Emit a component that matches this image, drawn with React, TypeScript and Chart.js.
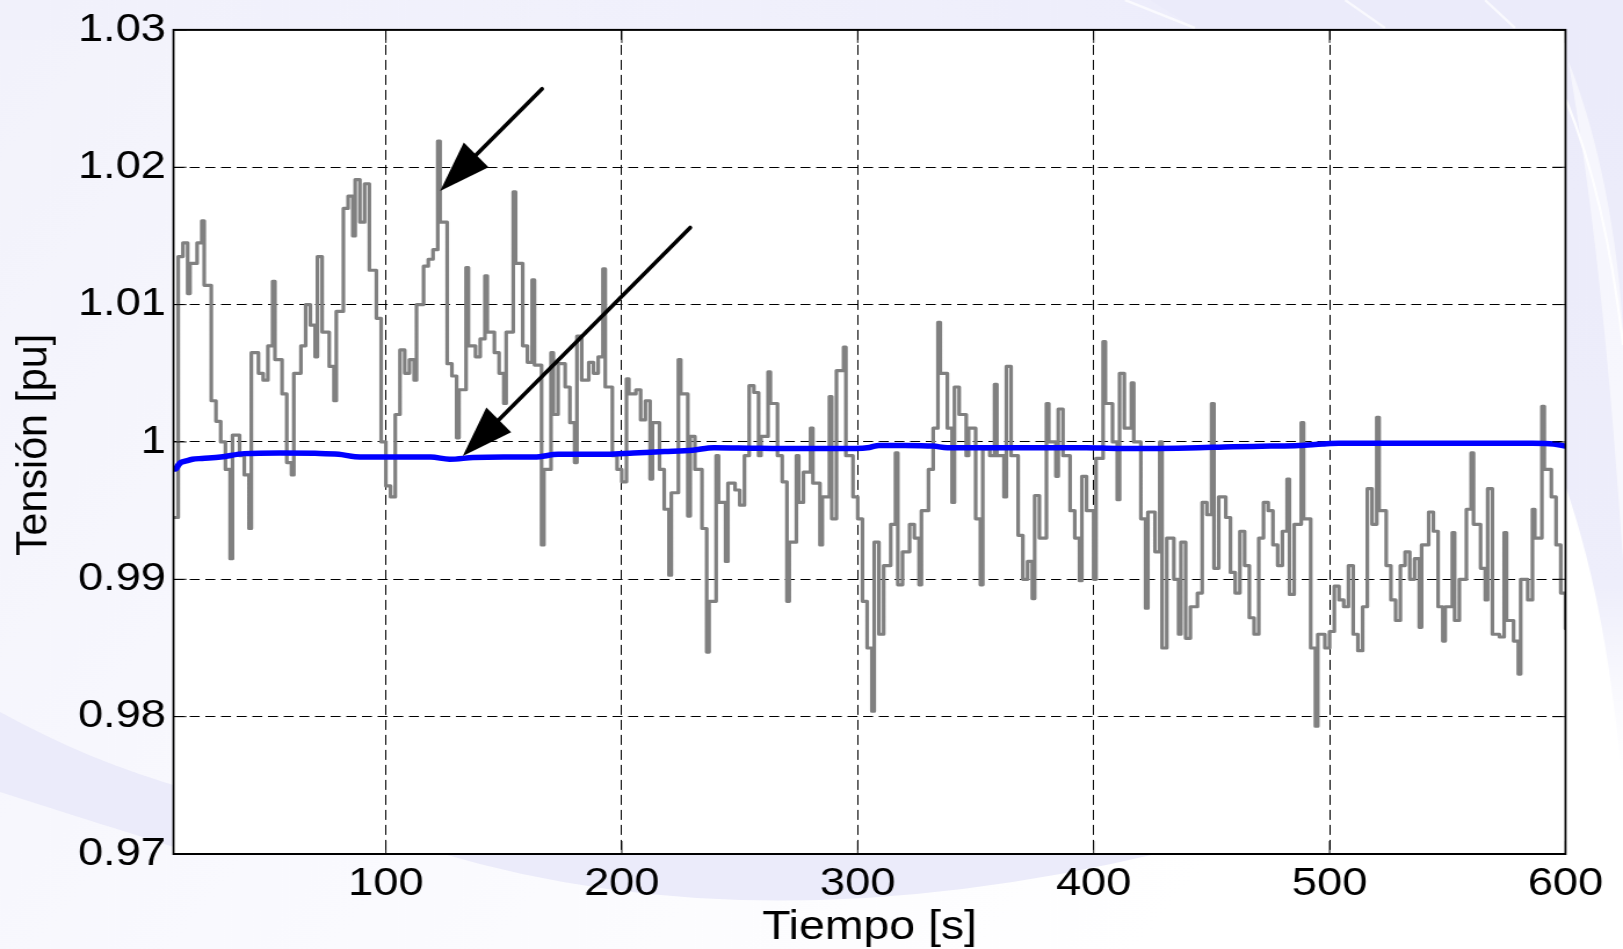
import React, { useEffect, useRef } from "react";
import { Chart, registerables } from "chart.js";

Chart.register(...registerables);

// The figure's lettering is wide, so the chart is drawn on a narrower canvas
// and widened by CSS to the final view size.
const VIEW_W = 1623;
const VIEW_H = 949;
const STRETCH = 1.16;
const CANVAS_W = Math.round(VIEW_W / STRETCH);
const SX = VIEW_W / CANVAS_W;

const FONT = "'Liberation Sans', Arial, Helvetica, sans-serif";

// Plot frame in view pixels
const PLOT_LEFT = 173.5;
const PLOT_RIGHT = 1565.5;
const PLOT_TOP = 24.5;
const PLOT_BOTTOM = 854;

const xTickValues = [100, 200, 300, 400, 500, 600];
const xTickLabels = ["100", "200", "300", "400", "500", "600"];
const yTickValues = [0.97, 0.98, 0.99, 1, 1.01, 1.02, 1.03];
const yTickLabels = ["0.97", "0.98", "0.99", "1", "1.01", "1.02", "1.03"];

// Measured voltage (sample-and-hold): start time of each level [s]
const measuredTime = [
  10, 12, 14, 16, 17, 20, 22, 23, 26, 28,
  30, 32, 34, 35, 38, 40, 42, 43, 46, 48,
  50, 52, 53, 56, 58, 60, 61, 64, 66, 68,
  70, 71, 73, 76, 78, 79, 82, 84, 86, 87,
  89, 91, 93, 96, 98, 100, 102, 104, 106, 108,
  110, 112, 113, 116, 118, 120, 122, 123, 126, 128,
  130, 131, 134, 135, 138, 140, 142, 143, 146, 148,
  150, 151, 154, 155, 158, 160, 162, 163, 166, 167,
  170, 171, 173, 176, 178, 180, 181, 183, 186, 188,
  190, 192, 193, 196, 198, 200, 202, 203, 206, 208,
  210, 212, 213, 216, 218, 220, 221, 224, 225, 228,
  229, 231, 234, 236, 237, 240, 241, 244, 245, 248,
  250, 252, 254, 256, 258, 259, 262, 263, 266, 268,
  270, 271, 274, 275, 277, 280, 281, 284, 285, 288,
  289, 291, 294, 295, 298, 300, 302, 304, 306, 307,
  309, 311, 314, 316, 317, 319, 322, 324, 326, 327,
  330, 332, 334, 335, 338, 340, 341, 343, 346, 347,
  350, 352, 353, 356, 358, 359, 362, 363, 365, 368,
  370, 372, 374, 375, 377, 380, 381, 384, 385, 387,
  390, 392, 394, 395, 397, 400, 401, 404, 405, 408,
  410, 411, 413, 416, 417, 420, 422, 423, 426, 428,
  429, 431, 434, 436, 437, 439, 441, 444, 446, 448,
  450, 451, 453, 456, 458, 460, 462, 464, 466, 468,
  470, 472, 474, 476, 478, 480, 482, 483, 485, 488,
  489, 492, 494, 495, 498, 500, 502, 504, 506, 508,
  510, 512, 514, 516, 518, 520, 521, 524, 526, 528,
  530, 532, 534, 536, 538, 539, 542, 544, 546, 548,
  549, 552, 553, 555, 558, 560, 561, 564, 566, 567,
  569, 572, 574, 575, 578, 580, 581, 584, 586, 587,
  590, 591, 594, 596, 598, 600,
];
// Measured voltage level [pu]
const measuredVoltage = [
  0.9945, 1.0135, 1.0145, 1.0108, 1.013, 1.0145, 1.0161, 1.0114, 1.003, 1.0015,
  1.0, 0.998, 0.9915, 1.0005, 0.999, 0.9976, 0.9937, 1.0065, 1.005, 1.0045,
  1.007, 1.0117, 1.006, 1.0035, 0.9985, 0.9976, 1.005, 1.007, 1.01, 1.0085,
  1.0062, 1.0135, 1.008, 1.0055, 1.003, 1.0095, 1.017, 1.0179, 1.015, 1.0191,
  1.016, 1.0188, 1.0125, 1.009, 1.0, 0.9968, 0.996, 1.002, 1.0067, 1.005,
  1.006, 1.0045, 1.01, 1.0128, 1.0133, 1.014, 1.0219, 1.016, 1.0057, 1.0048,
  1.0003, 1.0038, 1.0127, 1.007, 1.0062, 1.0075, 1.0121, 1.008, 1.0065, 1.005,
  1.0028, 1.008, 1.0182, 1.013, 1.007, 1.0058, 1.0118, 1.0056, 0.9925, 0.998,
  1.0065, 1.002, 1.0057, 1.004, 1.0014, 0.9985, 1.0077, 1.0045, 1.0058, 1.005,
  1.0062, 1.0126, 1.004, 0.999, 0.998, 0.9971, 1.0046, 1.0035, 1.0038, 1.0016,
  1.003, 0.9973, 1.0014, 0.998, 0.9951, 0.9903, 0.9963, 1.006, 1.0035, 0.9946,
  1.0004, 0.998, 0.9937, 0.9847, 0.9884, 0.999, 0.9956, 0.9913, 0.997, 0.9965,
  0.9954, 0.999, 1.0041, 1.0036, 0.999, 1.0004, 1.0051, 1.0028, 0.999, 0.9971,
  0.9884, 0.9927, 0.999, 0.9956, 0.9978, 1.001, 0.997, 0.9925, 0.996, 1.0033,
  0.9944, 1.0052, 1.0069, 0.999, 0.996, 0.9944, 0.9884, 0.985, 0.9804, 0.9927,
  0.986, 0.991, 0.994, 0.9992, 0.9896, 0.992, 0.994, 0.993, 0.9896, 0.995,
  0.998, 1.001, 1.0087, 1.005, 1.001, 0.9956, 1.004, 1.002, 0.999, 1.001,
  0.9944, 0.9896, 0.9995, 0.999, 1.0042, 0.999, 0.996, 1.0055, 0.999, 0.9932,
  0.99, 0.9913, 0.9886, 0.9961, 0.993, 1.0028, 1.0, 0.9975, 1.0024, 0.999,
  0.995, 0.993, 0.9899, 0.9975, 0.995, 0.99, 0.9988, 1.0073, 1.0028, 1.0,
  0.9958, 1.005, 1.001, 1.0043, 1.0, 0.9944, 0.9879, 0.9949, 0.992, 1.0,
  0.985, 0.993, 0.99, 0.986, 0.9927, 0.9857, 0.988, 0.989, 0.9956, 0.9947,
  1.0028, 0.9908, 0.996, 0.9945, 0.9905, 0.989, 0.9935, 0.991, 0.9872, 0.986,
  0.993, 0.9956, 0.995, 0.9925, 0.991, 0.9935, 0.9973, 0.9889, 0.994, 1.0014,
  0.9944, 0.985, 0.9793, 0.986, 0.985, 0.9862, 0.9895, 0.9885, 0.988, 0.991,
  0.986, 0.9848, 0.988, 0.9966, 0.994, 1.0018, 0.995, 0.991, 0.9885, 0.987,
  0.991, 0.992, 0.99, 0.9915, 0.9865, 0.9925, 0.9949, 0.9935, 0.988, 0.9855,
  0.988, 0.9934, 0.987, 0.99, 0.9951, 0.9992, 0.994, 0.9908, 0.9885, 0.9966,
  0.986, 0.9858, 0.9934, 0.987, 0.9855, 0.9831, 0.99, 0.9885, 0.9951, 0.993,
  1.0026, 0.998, 0.996, 0.9925, 0.989, 0.9864,
];

// Filtered voltage
const filteredTime = [
  10, 11, 12, 13, 15, 18, 22, 30, 40, 55, 70, 80, 87, 98, 110, 119, 127, 137,
  150, 163, 173, 185, 194, 205, 218, 230, 239, 255, 267, 285, 299, 305, 309,
  320, 332, 338, 350, 364, 380, 397, 410, 424, 440, 459, 475, 487, 497, 504,
  520, 544, 565, 586, 595, 600,
];
const filteredVoltage = [
  0.998, 0.99805, 0.9983, 0.9985, 0.9986, 0.99874, 0.9988, 0.99891, 0.99915,
  0.9992, 0.99917, 0.9991, 0.99893, 0.9989, 0.9989, 0.9989, 0.99874, 0.99886,
  0.9989, 0.9989, 0.9991, 0.9991, 0.9991, 0.9992, 0.9993, 0.9994, 0.99958,
  0.99955, 0.99953, 0.99953, 0.99953, 0.9996, 0.99975, 0.99975, 0.9997,
  0.99958, 0.99958, 0.99958, 0.99958, 0.99958, 0.99953, 0.99953, 0.99956,
  0.99965, 0.9997, 0.99975, 0.99985, 0.9999, 0.9999, 0.9999, 0.9999, 0.9999,
  0.99985, 0.9997,
];

// Annotation arrows (data coordinates)
const arrowFromTime = [166.2, 229.0];
const arrowFromVoltage = [1.0257, 1.0156];
const arrowToTime = [123.0, 132.6];
const arrowToVoltage = [1.01827, 0.99898];

const LAVENDER = "rgb(235,235,250)";

const backdropPlugin = {
  id: "backdrop",
  beforeDraw(chart: any) {
    const { ctx, chartArea } = chart;
    const H = chart.height;
    ctx.save();
    ctx.scale(1 / SX, 1);

    const base = ctx.createLinearGradient(0, 0, VIEW_W * 0.7, H);
    base.addColorStop(0, "#f2f2fb");
    base.addColorStop(0.5, "#f9f9fe");
    base.addColorStop(1, "#ffffff");
    ctx.fillStyle = base;
    ctx.fillRect(0, 0, VIEW_W, H);

    // top band, deepening to the right
    const top = ctx.createLinearGradient(0, 0, VIEW_W, 0);
    top.addColorStop(0, "rgba(240,240,252,0.4)");
    top.addColorStop(0.65, "rgba(237,237,251,0.9)");
    top.addColorStop(1, "rgba(234,234,250,1)");
    ctx.fillStyle = top;
    ctx.fillRect(0, 0, VIEW_W, 40);

    // right sweep
    const side = ctx.createLinearGradient(0, 0, 0, 780);
    side.addColorStop(0, LAVENDER);
    side.addColorStop(0.75, "rgb(238,238,251)");
    side.addColorStop(1, "rgba(245,245,253,0)");
    ctx.fillStyle = side;
    ctx.beginPath();
    ctx.moveTo(1150, 0);
    ctx.lineTo(VIEW_W, 0);
    ctx.lineTo(VIEW_W, 780);
    ctx.bezierCurveTo(1600, 560, 1560, 250, 1150, 0);
    ctx.fill();
    // soft highlight inside the sweep
    ctx.fillStyle = "rgba(255,255,255,0.55)";
    ctx.beginPath();
    ctx.moveTo(1568, 60);
    ctx.bezierCurveTo(1600, 140, 1618, 240, 1623, 330);
    ctx.lineTo(VIEW_W, 560);
    ctx.bezierCurveTo(1612, 400, 1598, 230, 1568, 60);
    ctx.fill();
    ctx.strokeStyle = "rgba(255,255,255,0.9)";
    ctx.lineWidth = 2.5;
    ctx.beginPath();
    ctx.moveTo(1566, 100);
    ctx.bezierCurveTo(1595, 170, 1612, 250, 1623, 345);
    ctx.stroke();
    // faint streaks across the top band
    ctx.strokeStyle = "rgba(255,255,255,0.7)";
    ctx.lineWidth = 2.5;
    for (const [x0, x1] of [[1125, 1195], [1345, 1385], [1485, 1515]]) {
      ctx.beginPath();
      ctx.moveTo(x0, 0);
      ctx.lineTo(x1, 28);
      ctx.stroke();
    }

    // lower-left sweep
    ctx.fillStyle = LAVENDER;
    ctx.beginPath();
    ctx.moveTo(0, 712);
    ctx.bezierCurveTo(60, 745, 120, 770, 190, 790);
    ctx.lineTo(190, 852);
    ctx.bezierCurveTo(120, 830, 50, 808, 0, 792);
    ctx.closePath();
    ctx.fill();

    // sweep below the time axis
    ctx.beginPath();
    ctx.moveTo(440, 853);
    ctx.quadraticCurveTo(760, 948, 1160, 853);
    ctx.closePath();
    ctx.fill();
    ctx.restore();

    ctx.fillStyle = "#ffffff";
    ctx.fillRect(
      chartArea.left,
      chartArea.top,
      chartArea.right - chartArea.left,
      chartArea.bottom - chartArea.top
    );
  },
};

const framePlugin = {
  id: "frame",
  afterDraw(chart: any) {
    const { ctx, chartArea, scales } = chart;
    const xs = scales.x;
    const ys = scales.y;
    const L = chartArea.left * SX;
    const R = chartArea.right * SX;
    const T = chartArea.top;
    const B = chartArea.bottom;

    ctx.save();
    ctx.scale(1 / SX, 1);

    // inward tick marks
    ctx.strokeStyle = "#000";
    ctx.lineWidth = 1;
    const tick = 13;
    ctx.beginPath();
    for (const v of xTickValues) {
      const x = xs.getPixelForValue(v) * SX;
      ctx.moveTo(x, B);
      ctx.lineTo(x, B - tick);
      ctx.moveTo(x, T);
      ctx.lineTo(x, T + tick);
    }
    for (const v of yTickValues) {
      const y = ys.getPixelForValue(v);
      ctx.moveTo(L, y);
      ctx.lineTo(L + tick, y);
      ctx.moveTo(R, y);
      ctx.lineTo(R - tick, y);
    }
    ctx.stroke();

    // box
    ctx.lineWidth = 2;
    ctx.strokeRect(L, T, R - L, B - T);

    // arrows
    ctx.fillStyle = "#000";
    ctx.lineWidth = 4;
    ctx.lineCap = "round";
    for (let i = 0; i < arrowFromTime.length; i++) {
      const x1 = xs.getPixelForValue(arrowFromTime[i]) * SX;
      const y1 = ys.getPixelForValue(arrowFromVoltage[i]);
      const x2 = xs.getPixelForValue(arrowToTime[i]) * SX;
      const y2 = ys.getPixelForValue(arrowToVoltage[i]);
      const a = Math.atan2(y2 - y1, x2 - x1);
      const headLen = 51;
      const half = 17.5;
      const bx = x2 - headLen * Math.cos(a);
      const by = y2 - headLen * Math.sin(a);
      ctx.beginPath();
      ctx.moveTo(x1, y1);
      ctx.lineTo(bx, by);
      ctx.stroke();
      ctx.beginPath();
      ctx.moveTo(x2, y2);
      ctx.lineTo(bx - half * Math.sin(a), by + half * Math.cos(a));
      ctx.lineTo(bx + half * Math.sin(a), by - half * Math.cos(a));
      ctx.closePath();
      ctx.fill();
    }

    // vertical axis title
    ctx.translate(46, (T + B) / 2 + 3);
    ctx.rotate(-Math.PI / 2);
    ctx.scale(1.03, 1.07);
    ctx.font = `40px ${FONT}`;
    ctx.textAlign = "center";
    ctx.textBaseline = "alphabetic";
    ctx.fillStyle = "#000";
    ctx.fillText("Tensión [pu]", 0, 0);
    ctx.restore();
  },
};

export default function App() {
  const canvasRef = useRef<HTMLCanvasElement | null>(null);

  useEffect(() => {
    document.body.style.margin = "0";
    document.body.style.overflow = "hidden";
    const canvas = canvasRef.current;
    if (!canvas) return;

    const chart = new Chart(canvas, {
      type: "line",
      data: {
        datasets: [
          {
            label: "Tensión filtrada",
            data: filteredTime.map((t, i) => ({ x: t, y: filteredVoltage[i] })),
            borderColor: "#0000ff",
            borderWidth: 5.5,
            pointRadius: 0,
            cubicInterpolationMode: "monotone",
            fill: false,
          },
          {
            label: "Tensión medida",
            data: measuredTime.map((t, i) => ({ x: t, y: measuredVoltage[i] })),
            borderColor: "#808080",
            borderWidth: 3.2,
            borderJoinStyle: "round",
            borderCapStyle: "round",
            pointRadius: 0,
            stepped: true,
            fill: false,
          },
        ],
      },
      options: {
        responsive: false,
        animation: false,
        devicePixelRatio: 1,
        events: [],
        layout: {
          padding: {
            top: PLOT_TOP,
            right: CANVAS_W - PLOT_RIGHT / SX,
            bottom: 0,
            left: 0,
          },
        },
        plugins: {
          legend: { display: false },
          tooltip: { enabled: false },
        },
        scales: {
          x: {
            type: "linear",
            min: 10,
            max: 600,
            afterBuildTicks: (s: any) => {
              s.ticks = xTickValues.map((value) => ({ value }));
            },
            afterFit: (s: any) => {
              s.height = VIEW_H - PLOT_BOTTOM;
            },
            grid: { color: "#000", lineWidth: 1, drawTicks: false },
            border: { display: false, dash: [10, 5] },
            ticks: {
              color: "#000",
              font: { family: FONT, size: 39 },
              padding: 7,
              maxRotation: 0,
              autoSkip: false,
              callback: (v: any) => xTickLabels[xTickValues.indexOf(Number(v))],
            },
            title: {
              display: true,
              text: "Tiempo [s]",
              color: "#000",
              font: { family: FONT, size: 40 },
              padding: { top: 0, bottom: -3 },
            },
          },
          y: {
            type: "linear",
            min: 0.97,
            max: 1.03,
            afterBuildTicks: (s: any) => {
              s.ticks = yTickValues.map((value) => ({ value }));
            },
            afterFit: (s: any) => {
              s.width = PLOT_LEFT / SX;
            },
            grid: { color: "#000", lineWidth: 1, drawTicks: false },
            border: { display: false, dash: [8.6, 4.9] },
            ticks: {
              color: "#000",
              font: { family: FONT, size: 39 },
              padding: 6.5,
              callback: (v: any) => yTickLabels[yTickValues.indexOf(Number(v))],
            },
            title: { display: false },
          },
        },
      },
      plugins: [backdropPlugin, framePlugin],
    } as any);

    return () => chart.destroy();
  }, []);

  return (
    <canvas
      ref={canvasRef}
      width={CANVAS_W}
      height={VIEW_H}
      style={{ width: `${VIEW_W}px`, height: `${VIEW_H}px`, display: "block" }}
    />
  );
}
